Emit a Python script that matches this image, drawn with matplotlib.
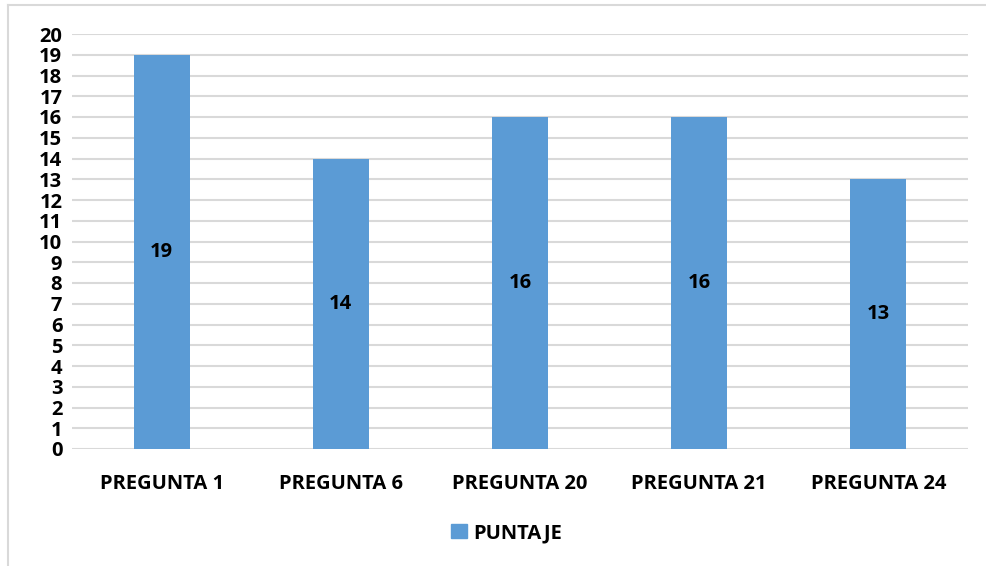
import matplotlib
matplotlib.use("Agg")
import matplotlib.pyplot as plt
from matplotlib.lines import Line2D

categories = ["PREGUNTA 1", "PREGUNTA 6", "PREGUNTA 20", "PREGUNTA 21", "PREGUNTA 24"]
values = [19, 14, 16, 16, 13]
series_name = "PUNTAJE"
yticks = list(range(0, 21))

plt.rcParams['font.family'] = ['Open Sans', 'DejaVu Sans']
FS = 14.5
W, H = 987, 566
fig = plt.figure(figsize=(W/100, H/100), dpi=100)
ax = fig.add_axes([72/W, 1-449/H, (968-72)/W, (449-34)/H])

color = "#5B9BD5"
x = list(range(len(categories)))
bars = ax.bar(x, values, width=0.3125, color=color, zorder=3, label=series_name)
ax.set_xlim(-0.5, len(categories)-0.5)
ax.set_ylim(0, 20)
ax.set_yticks(yticks)
ax.set_yticklabels([str(t) for t in yticks], fontsize=FS, fontweight='bold')
ax.set_xticks(x)
ax.set_xticklabels(categories, fontsize=FS, fontweight='bold')
ax.tick_params(axis='both', length=0)
ax.tick_params(axis='x', pad=18)
ax.tick_params(axis='y', pad=7)
ax.grid(axis='y', color='#D9D9D9', linewidth=1.5, zorder=0)
for s in ax.spines.values():
    s.set_visible(False)

for xi, v in zip(x, values):
    ax.text(xi, v/2, str(v), ha='center', va='center', fontsize=FS, fontweight='bold', zorder=4)

leg = fig.legend(handles=[plt.Rectangle((0, 0), 1, 1, color=color)], labels=[series_name],
                 loc='center', bbox_to_anchor=(507/W, 1-533/H), frameon=False,
                 prop={'size': FS, 'weight': 'bold'}, handlelength=0.75, handleheight=0.75,
                 handletextpad=0.35)

# outer chart frame (partially visible)
fig.add_artist(Line2D([8/W, 8/W], [0, 1-5/H], color='#D9D9D9', linewidth=1.5, transform=fig.transFigure))
fig.add_artist(Line2D([8/W, 1], [1-5/H, 1-5/H], color='#D9D9D9', linewidth=1.5, transform=fig.transFigure))

fig.savefig("out.png", dpi=100)
